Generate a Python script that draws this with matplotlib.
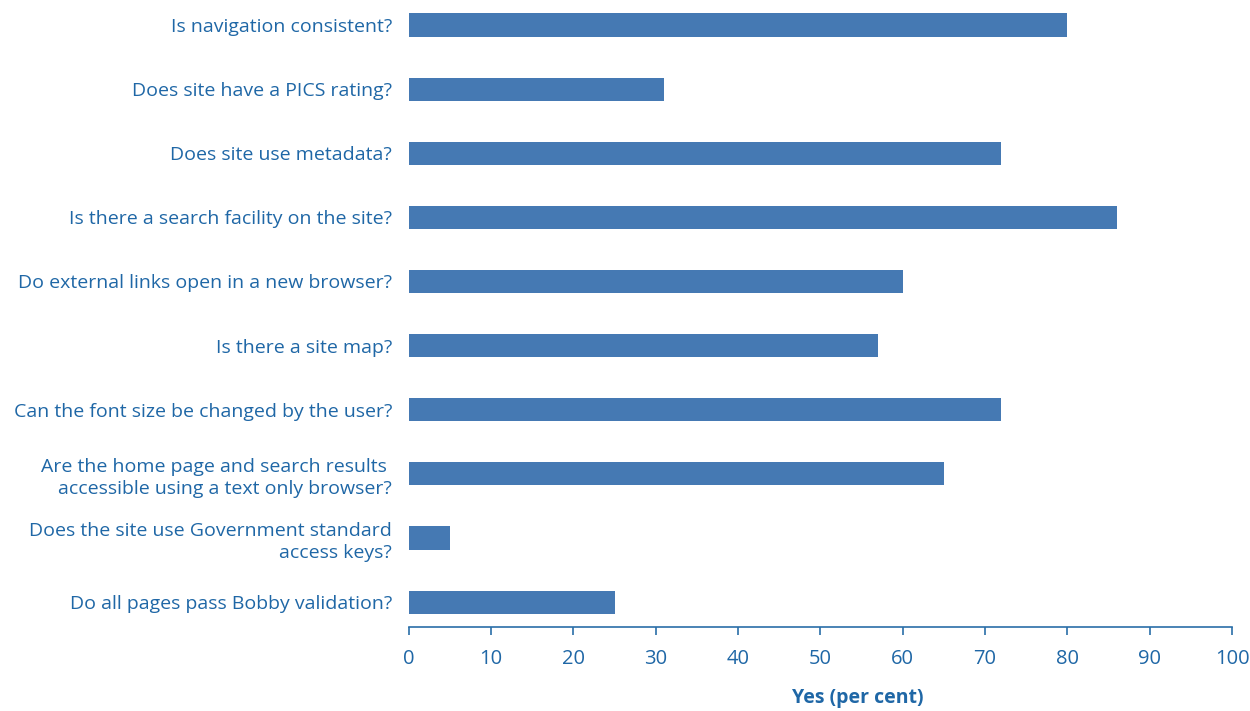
import matplotlib.pyplot as plt
import numpy as np

_BAR_COLOR = "#4579b3"
_TEXT_COLOR = "#1f67a6"
_AXIS_COLOR = "#2a6ea8"

questions = [
    "Is navigation consistent?",
    "Does site have a PICS rating?",
    "Does site use metadata?",
    "Is there a search facility on the site?",
    "Do external links open in a new browser?",
    "Is there a site map?",
    "Can the font size be changed by the user?",
    "Are the home page and search results \naccessible using a text only browser?",
    "Does the site use Government standard\naccess keys?",
    "Do all pages pass Bobby validation?",
]
yes_percent = [80, 31, 72, 86, 60, 57, 72, 65, 5, 25]
x_ticks = [0, 10, 20, 30, 40, 50, 60, 70, 80, 90, 100]

plt.rcParams["font.family"] = ["Open Sans", "DejaVu Sans"]

fig = plt.figure(figsize=(12.5, 7.11), dpi=100)
ax = fig.add_axes([0.327, 0.118, 0.6586, 0.882])

y_positions = np.arange(len(questions))[::-1]
ax.barh(y_positions, yes_percent, height=0.36, color=_BAR_COLOR)

ax.set_xlim(0, 100)
ax.set_ylim(-0.39, len(questions) - 1 + 0.39)
ax.set_xticks(x_ticks)
ax.set_yticks(y_positions)
ax.set_yticklabels(questions, fontsize=14, color=_TEXT_COLOR, linespacing=1.3)
ax.tick_params(axis="y", length=0, pad=12)
ax.tick_params(axis="x", colors=_AXIS_COLOR, labelcolor=_TEXT_COLOR,
               labelsize=14.5, length=6, width=1.2, pad=10)

for side in ("top", "right", "left"):
    ax.spines[side].set_visible(False)
ax.spines["bottom"].set_color(_AXIS_COLOR)
ax.spines["bottom"].set_linewidth(1.2)

ax.set_xlabel("Yes (per cent)", fontsize=14, fontweight="bold", color=_TEXT_COLOR)
ax.xaxis.set_label_coords(0.545, -0.097)

fig.savefig("out.png", dpi=100, facecolor="white")
